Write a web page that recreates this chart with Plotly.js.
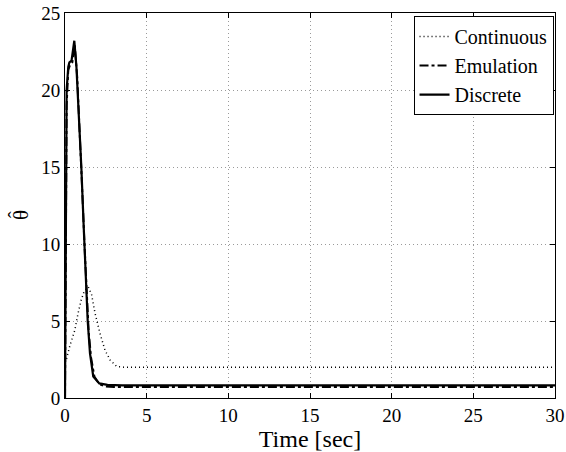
<!DOCTYPE html>
<html>
<head>
<meta charset="utf-8">
<script src="https://cdn.plot.ly/plotly-3.0.1.min.js"></script>
<style>html,body{margin:0;padding:0;background:#fff;}#chart{width:566px;height:452px;}</style>
</head>
<body>
<div id="chart"></div>
<script>
// Continuous (dotted)
const tContinuous = [0, 0.1, 0.3, 0.6, 0.8, 1.0, 1.2, 1.43, 1.63, 1.84, 2.14, 2.45, 2.76, 3.16, 3.6, 5, 10, 15, 20, 25, 30];
const yContinuous = [2.3, 2.57, 3.4, 4.4, 5.5, 6.4, 7.0, 7.2, 6.7, 5.5, 4.2, 3.1, 2.47, 2.05, 2.0, 2.0, 2.0, 2.0, 2.0, 2.0, 2.0];

// Emulation (dash-dot)
const tEmulation = [0, 0.05, 0.1, 0.2, 0.3, 0.45, 0.6, 0.75, 0.9, 1.05, 1.2, 1.35, 1.45, 1.6, 1.8, 2.1, 2.5, 3, 5, 10, 15, 20, 25, 30];
const yEmulation = [0, 9, 19, 21.3, 21.6, 21.8, 22.9, 20.8, 17.5, 13.6, 9.8, 6.0, 4.3, 2.6, 1.4, 0.9, 0.75, 0.72, 0.72, 0.72, 0.72, 0.72, 0.72, 0.72];

// Discrete (solid)
const tDiscrete = [0, 0.05, 0.1, 0.2, 0.27, 0.4, 0.57, 0.7, 0.85, 1.0, 1.15, 1.29, 1.39, 1.53, 1.73, 2.1, 2.6, 3.5, 5, 10, 15, 20, 25, 30];
const yDiscrete = [0, 10, 20, 21.5, 21.8, 21.9, 23.2, 21.5, 18.5, 15, 11, 7.2, 5, 2.9, 1.4, 0.95, 0.85, 0.82, 0.82, 0.82, 0.82, 0.82, 0.82, 0.82];

const seriesNames = ['Continuous', 'Emulation', 'Discrete'];
const xTicks = [0, 5, 10, 15, 20, 25, 30];
const yTicks = [0, 5, 10, 15, 20, 25];
const yLabel = 'θ';
const yLabelHat = 'ˆ';

const FONT = 'Liberation Serif';

const traces = [
  {x: tContinuous, y: yContinuous, name: seriesNames[0], mode: 'lines',
   line: {color: '#000', width: 1.5, dash: '1px,3px'}},
  {x: tEmulation, y: yEmulation, name: seriesNames[1], mode: 'lines',
   line: {color: '#000', width: 2, dash: 'dashdot'}},
  {x: tDiscrete, y: yDiscrete, name: seriesNames[2], mode: 'lines',
   line: {color: '#000', width: 2.2}}
];

const axisCommon = {
  showline: true, linecolor: '#000', linewidth: 1, mirror: 'ticks',
  ticks: 'inside', ticklen: 5, tickcolor: '#000', tickwidth: 1,
  showgrid: true, gridcolor: '#9a9a9a', griddash: '1px,3px', gridwidth: 1,
  zeroline: false, tickfont: {family: FONT, size: 19, color: '#000'},
  fixedrange: true
};

const layout = {
  width: 566, height: 452,
  margin: {l: 65, r: 11, t: 13, b: 54},
  paper_bgcolor: '#fff', plot_bgcolor: '#fff',
  font: {family: FONT, color: '#000'},
  showlegend: true,
  legend: {
    x: 0.997, y: 0.992, xanchor: 'right', yanchor: 'top',
    bgcolor: '#fff', bordercolor: '#000', borderwidth: 1,
    font: {family: FONT, size: 20, color: '#000'},
    tracegroupgap: 0
  },
  xaxis: Object.assign({}, axisCommon, {
    range: [0, 30], tickvals: xTicks, ticktext: xTicks.map(String),
    title: {text: 'Time [sec]', font: {family: FONT, size: 24, color: '#000'}, standoff: 4}
  }),
  yaxis: Object.assign({}, axisCommon, {
    range: [0, 25], tickvals: yTicks, ticktext: yTicks.map(String)
  }),
  annotations: [
    {xref: 'paper', yref: 'paper', x: -0.09, y: 0.475, xanchor: 'center', yanchor: 'middle',
     text: yLabel, textangle: -90, showarrow: false,
     font: {family: FONT, size: 21, color: '#000'}},
    {xref: 'paper', yref: 'paper', x: -0.1, y: 0.475, xanchor: 'center', yanchor: 'middle',
     text: yLabelHat, textangle: -90, showarrow: false,
     font: {family: FONT, size: 21, color: '#000'}}
  ]
};

Plotly.newPlot('chart', traces, layout, {displayModeBar: false, staticPlot: true});
</script>
</body>
</html>
